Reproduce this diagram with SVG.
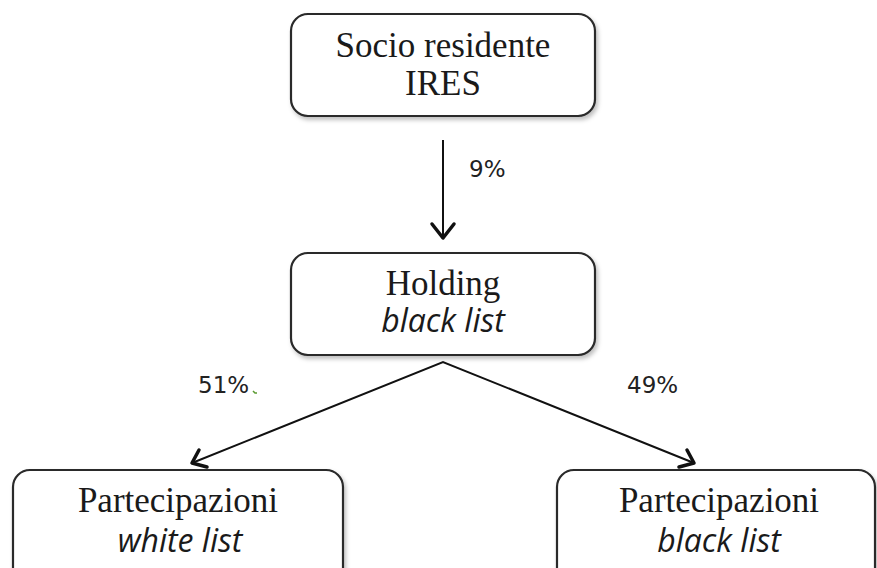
<svg xmlns="http://www.w3.org/2000/svg" width="877" height="568" viewBox="0 0 877 568">
<defs>
<filter id="ds" x="-5%" y="-10%" width="112%" height="130%">
<feDropShadow dx="2" dy="3" stdDeviation="2" flood-color="#000" flood-opacity="0.25"/>
</filter>
</defs>
<style>
.box{fill:#fff;stroke:#2a2a2a;stroke-width:2.2;filter:url(#ds)}
.t{font-family:"Liberation Serif","DejaVu Serif",serif;font-size:35px;fill:#1a1a1a;text-anchor:middle}
.i{font-family:"Open Sans","DejaVu Sans",sans-serif;font-style:italic;font-size:32px;fill:#1a1a1a;text-anchor:middle}
.p{font-family:"DejaVu Sans",sans-serif;font-size:23px;fill:#222}
.c{stroke:#111;stroke-width:2;fill:none}
.h{stroke:#111;stroke-width:3.5;fill:none;stroke-linecap:round;stroke-linejoin:round}
</style>
<rect width="877" height="568" fill="#fff"/>
<g id="n1">
<rect class="box" x="291" y="14" width="304" height="102" rx="17"/>
<text class="t" x="443" y="57">Socio residente</text>
<text class="t" x="443" y="95">IRES</text>
</g>
<g id="n2">
<rect class="box" x="291" y="253" width="304" height="102" rx="17"/>
<text class="t" x="443" y="295">Holding</text>
<text class="i" x="443" y="332">black list</text>
</g>
<g id="n3">
<rect class="box" x="13" y="470" width="330" height="125" rx="17"/>
<text class="t" x="178" y="512">Partecipazioni</text>
<text class="i" x="180" y="552">white list</text>
</g>
<g id="n4">
<rect class="box" x="557" y="470" width="318" height="125" rx="17"/>
<text class="t" x="719" y="512">Partecipazioni</text>
<text class="i" x="719" y="552">black list</text>
</g>
<g id="connectors">
<line class="c" x1="443" y1="140" x2="443" y2="238"/>
<polyline class="h" points="432,224 443,238 454,224"/>
<polyline class="c" points="192,463 443,362 694,463"/>
<polyline class="h" points="199,450 192,463 207,467"/>
<polyline class="h" points="679,467 694,463 687,450"/>
<text class="p" x="469" y="177">9%</text>
<text class="p" x="198" y="393">51%</text>
<path d="M253,391 l2,2 l2,0" stroke="#5a9a30" stroke-width="1.5" fill="none"/>
<text class="p" x="627" y="393">49%</text>
</g>
</svg>
